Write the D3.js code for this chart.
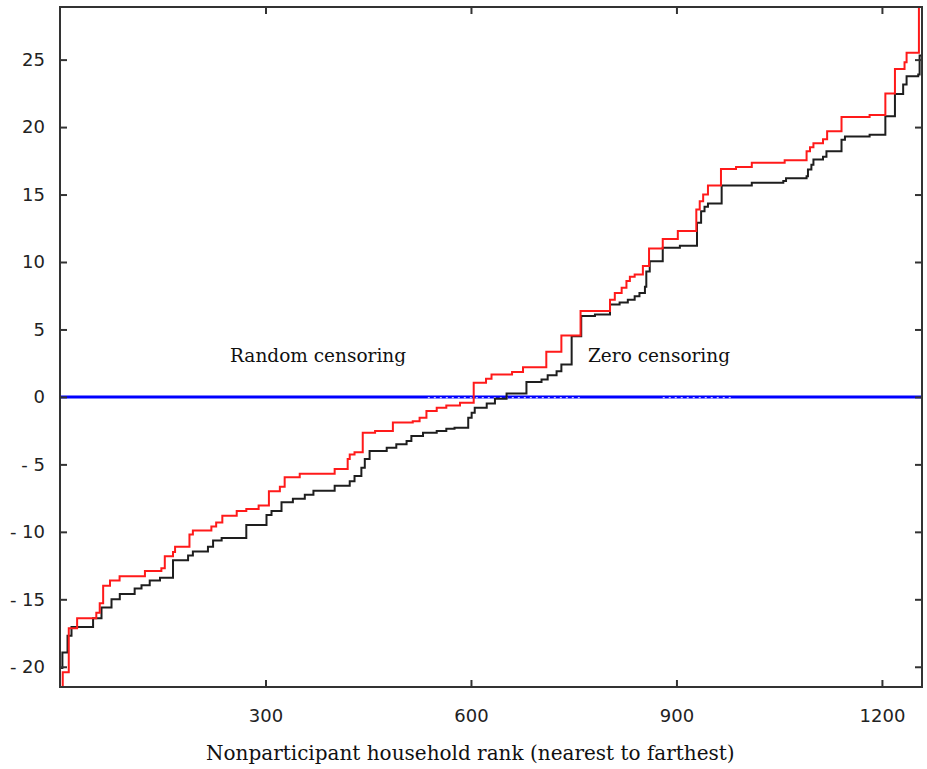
<!DOCTYPE html>
<html>
<head>
<meta charset="utf-8">
<script src="https://cdn.jsdelivr.net/npm/d3@7/dist/d3.min.js"></script>
<style>
  html, body { margin: 0; padding: 0; background: #fff; }
  svg { display: block; }
</style>
</head>
<body>
<svg id="chart" width="927" height="769"></svg>
<script>
// ---------------- data ----------------
const xTicks = [300, 600, 900, 1200];
const yTicks = [-20, -15, -10, -5, 0, 5, 10, 15, 20, 25];
const xDomain = [0, 1258.5];
const yDomain = [-21.5, 28.9];

const xTitle = "Nonparticipant household rank (nearest to farthest)";
const labelRandom = "Random censoring";
const labelZero = "Zero censoring";

// step points [rank, value] (value holds from this rank onwards)
const randomCensoring = [
  [0, -21.5], [4, -20.4], [12.8, -17.15], [25, -16.4], [53, -16.0], [58, -15.3],
  [63, -14.0], [73, -13.6], [87, -13.3], [124, -12.9], [148, -12.7], [153, -11.8],
  [165, -11.5], [168, -11.1], [189, -10.2], [194, -9.9], [221, -9.6], [228, -9.3],
  [237, -8.8], [258, -8.46], [272, -8.3], [290, -8.05], [305, -7.0], [321, -6.65],
  [328, -5.95], [350, -5.7], [401, -5.35], [420, -4.6], [423, -4.26], [430, -4.1],
  [442, -2.65], [460, -2.53], [486, -1.9], [515, -1.8], [525, -1.54], [535, -1.05],
  [550, -0.8], [564, -0.63], [584, -0.43], [604, 1.05], [622, 1.35], [630, 1.67],
  [660, 1.84], [676, 2.2], [710, 3.35], [732, 4.55], [760, 6.36], [803, 7.2],
  [810, 7.7], [820, 8.1], [827, 8.6], [832, 8.9], [839, 9.07], [851, 9.7],
  [860, 11.0], [880, 11.7], [902, 12.3], [929, 13.9], [934, 14.5], [939, 15.0],
  [946, 15.67], [965, 16.9], [987, 17.05], [1010, 17.35], [1058, 17.54], [1090, 18.2],
  [1095, 18.5], [1100, 18.8], [1114, 19.1], [1120, 19.7], [1141, 20.75], [1182, 20.9],
  [1205, 22.48], [1219, 24.3], [1233, 24.8], [1236, 25.5], [1254, 29.5]
];

const zeroCensoring = [
  [0, -20.1], [3.5, -18.95], [11, -17.7], [16.8, -17.05], [48.3, -16.4], [60.6, -15.6],
  [75.2, -15.0], [87.3, -14.6], [109, -14.2], [119, -13.96], [131, -13.6], [146, -13.4],
  [165, -12.1], [187, -11.75], [194, -11.45], [216, -11.1], [223.5, -10.65], [236, -10.45],
  [272, -9.5], [301.5, -8.75], [308.8, -8.46], [323.4, -7.8], [340, -7.55], [357.4, -7.25],
  [370, -6.95], [401, -6.58], [423, -6.25], [430, -5.87], [440, -5.25], [445, -4.6],
  [452, -4.0], [477, -3.77], [491, -3.5], [506, -3.27], [513, -2.9], [530, -2.65],
  [550, -2.53], [564, -2.36], [576, -2.28], [596, -1.54], [601, -1.17], [605.5, -0.8],
  [623, -0.48], [635, -0.14], [652, 0.25], [681, 1.1], [703, 1.3], [712, 1.6],
  [725, 1.9], [732, 2.4], [747, 4.5], [761, 6.0], [781, 6.1], [803, 6.85],
  [817, 7.0], [829, 7.2], [839, 7.47], [846, 7.7], [854, 8.16], [856, 9.3],
  [861, 10.06], [880, 11.05], [905, 11.2], [930, 12.9], [936, 13.76], [941, 14.1],
  [946, 14.33], [966, 15.67], [1010, 15.87], [1056, 16.0], [1060, 16.2], [1090, 16.36],
  [1092, 16.85], [1097, 17.2], [1100, 17.6], [1114, 17.8], [1119, 18.2], [1141, 19.07],
  [1146, 19.3], [1182, 19.44], [1205, 20.8], [1219, 22.45], [1231, 23.15], [1236, 23.76],
  [1253, 23.9], [1255, 25.3]
];

const zeroLine = 0;
const zeroDotRanges = [[537, 762], [880, 982]];

// ---------------- layout ----------------
const svg = d3.select("#chart");
const W = 927, H = 769;
const plot = { left: 60, right: 922, top: 7, bottom: 687 };

svg.append("rect").attr("width", W).attr("height", H).attr("fill", "#fff");

const x = d3.scaleLinear().domain(xDomain).range([plot.left, plot.right]);
const y = d3.scaleLinear().domain(yDomain).range([plot.bottom, plot.top]);

svg.append("defs").append("clipPath").attr("id", "clip")
  .append("rect")
  .attr("x", plot.left).attr("y", plot.top)
  .attr("width", plot.right - plot.left).attr("height", plot.bottom - plot.top);

const g = svg.append("g").attr("clip-path", "url(#clip)");

// zero reference line
g.append("line")
  .attr("x1", x(xDomain[0])).attr("x2", x(xDomain[1]))
  .attr("y1", y(zeroLine)).attr("y2", y(zeroLine))
  .attr("stroke", "#0000ff").attr("stroke-width", 3);

zeroDotRanges.forEach(r => {
  g.append("line")
    .attr("x1", x(r[0])).attr("x2", x(r[1]))
    .attr("y1", y(zeroLine) + 0.8).attr("y2", y(zeroLine) + 0.8)
    .attr("stroke", "#ffffff").attr("stroke-width", 1)
    .attr("stroke-dasharray", "2,4");
});

const stepLine = d3.line()
  .x(d => x(d[0]))
  .y(d => y(d[1]))
  .curve(d3.curveStepAfter);

function withEnd(arr) {
  return arr.concat([[xDomain[1], arr[arr.length - 1][1]]]);
}

g.append("path")
  .datum(withEnd(zeroCensoring))
  .attr("d", stepLine)
  .attr("fill", "none")
  .attr("stroke", "#1e1e1e")
  .attr("stroke-width", 2);

g.append("path")
  .datum(withEnd(randomCensoring))
  .attr("d", stepLine)
  .attr("fill", "none")
  .attr("stroke", "#ff1a1a")
  .attr("stroke-width", 2);

// ---------------- axes ----------------
const axisColor = "#333";
const tickLen = 7;
const tickFont = "'DejaVu Sans', Verdana, sans-serif";
const fmt = d => d < 0 ? "- " + Math.abs(d) : String(d);

function styleAxis(sel, withText) {
  sel.select(".domain").remove();
  sel.selectAll(".tick line").attr("stroke", axisColor).attr("stroke-width", 2);
  if (withText) {
    sel.selectAll(".tick text")
      .attr("fill", "#222")
      .style("font-family", tickFont)
      .style("font-size", "18px");
  } else {
    sel.selectAll(".tick text").remove();
  }
}

// bottom
const gx = svg.append("g")
  .attr("transform", `translate(0,${plot.bottom})`)
  .call(d3.axisBottom(x).tickValues(xTicks).tickSizeInner(-tickLen).tickSizeOuter(0).tickPadding(tickLen + 15).tickFormat(fmt));
styleAxis(gx, true);
// top (mirror)
const gxt = svg.append("g")
  .attr("transform", `translate(0,${plot.top})`)
  .call(d3.axisTop(x).tickValues(xTicks).tickSizeInner(-tickLen).tickSizeOuter(0));
styleAxis(gxt, false);

// left
const gy = svg.append("g")
  .attr("transform", `translate(${plot.left},0)`)
  .call(d3.axisLeft(y).tickValues(yTicks).tickSizeInner(-tickLen).tickSizeOuter(0).tickPadding(tickLen + 8).tickFormat(fmt));
styleAxis(gy, true);
// right (mirror)
const gyr = svg.append("g")
  .attr("transform", `translate(${plot.right},0)`)
  .call(d3.axisRight(y).tickValues(yTicks).tickSizeInner(-tickLen).tickSizeOuter(0));
styleAxis(gyr, false);

// frame
svg.append("rect")
  .attr("x", plot.left).attr("y", plot.top)
  .attr("width", plot.right - plot.left).attr("height", plot.bottom - plot.top)
  .attr("fill", "none").attr("stroke", axisColor).attr("stroke-width", 2);

// ---------------- texts ----------------
const serif = "'DejaVu Serif', 'Liberation Serif', serif";

svg.append("text")
  .attr("x", 206).attr("y", 760)
  .attr("fill", "#111")
  .style("font-family", serif).style("font-size", "20px")
  .text(xTitle);

svg.append("text")
  .attr("x", 230).attr("y", 362)
  .attr("fill", "#111")
  .style("font-family", serif).style("font-size", "18.5px")
  .text(labelRandom);

svg.append("text")
  .attr("x", 588).attr("y", 362)
  .attr("fill", "#111")
  .style("font-family", serif).style("font-size", "18.5px")
  .text(labelZero);
</script>
</body>
</html>
